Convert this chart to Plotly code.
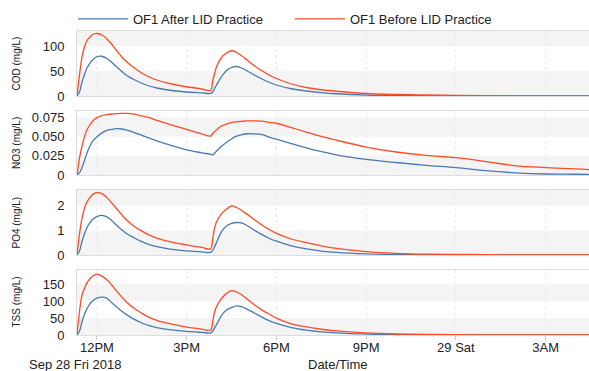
import plotly.graph_objects as go
from plotly.subplots import make_subplots

times = [
    "2018-09-28 11:20", "2018-09-28 11:25", "2018-09-28 11:30", "2018-09-28 11:35",
    "2018-09-28 11:40", "2018-09-28 11:45", "2018-09-28 11:50", "2018-09-28 11:55",
    "2018-09-28 12:00", "2018-09-28 12:10", "2018-09-28 12:20", "2018-09-28 12:30",
    "2018-09-28 12:40", "2018-09-28 12:50", "2018-09-28 13:00", "2018-09-28 13:15",
    "2018-09-28 13:30", "2018-09-28 13:45", "2018-09-28 14:00", "2018-09-28 14:30",
    "2018-09-28 15:00", "2018-09-28 15:30", "2018-09-28 15:48", "2018-09-28 15:52",
    "2018-09-28 15:56", "2018-09-28 16:00", "2018-09-28 16:10", "2018-09-28 16:20",
    "2018-09-28 16:30", "2018-09-28 16:40", "2018-09-28 16:50", "2018-09-28 17:00",
    "2018-09-28 17:15", "2018-09-28 17:30", "2018-09-28 17:45", "2018-09-28 18:00",
    "2018-09-28 18:30", "2018-09-28 19:00", "2018-09-28 19:30", "2018-09-28 20:00",
    "2018-09-28 21:00", "2018-09-28 22:00", "2018-09-28 23:00", "2018-09-29 00:00",
    "2018-09-29 01:00", "2018-09-29 02:00", "2018-09-29 03:00", "2018-09-29 04:00",
    "2018-09-29 04:27",
]

cod_after = [0, 8, 27.6, 43, 56, 64, 71, 75.5, 78.5, 79.5, 75, 67, 58, 49, 41, 32.5, 25.5, 20, 16,
             11, 8, 6.2, 5.2, 8, 15, 22, 39, 51, 57, 59, 56, 51, 42.5, 34.5, 27.5, 22, 14.5, 10, 6.8,
             4.5, 1.8, 0.8, 0.4, 0.2, 0.1, 0.05, 0, 0, 0]
cod_before = [0, 42, 78, 98, 111, 117, 122, 124.5, 125, 122, 114, 103, 90, 78, 68, 56, 46, 38, 32,
              24, 18.5, 14, 11.5, 30, 45, 59, 77, 86, 90.5, 87, 80.5, 73, 61, 51, 42, 35, 24, 17,
              12.5, 9.5, 5, 3, 2, 1.2, 0.7, 0.4, 0.2, 0.1, 0.1]

no3_after = [0, 0.003, 0.0095, 0.019, 0.0285, 0.0365, 0.043, 0.0467, 0.050, 0.055, 0.0583, 0.0595,
             0.0605, 0.0600, 0.0584, 0.0554, 0.0518, 0.0482, 0.0444, 0.0384, 0.0328, 0.0290, 0.0270,
             0.0262, 0.0284, 0.0313, 0.0374, 0.0428, 0.0470, 0.0506, 0.0525, 0.0538, 0.0537, 0.0530,
             0.0495, 0.0467, 0.0410, 0.0355, 0.0305, 0.0263, 0.0204, 0.0163, 0.0126, 0.0096, 0.0057,
             0.0028, 0.0013, 0.0010, 0.0008]
no3_before = [0, 0.022, 0.0375, 0.050, 0.059, 0.0646, 0.069, 0.0726, 0.0748, 0.0775, 0.0787, 0.0796,
              0.0801, 0.0804, 0.0804, 0.0794, 0.0770, 0.0748, 0.0712, 0.0652, 0.0594, 0.0535, 0.0508,
              0.0540, 0.0565, 0.0590, 0.0640, 0.0665, 0.0683, 0.0693, 0.0700, 0.0705, 0.0706, 0.0702,
              0.0688, 0.0675, 0.0618, 0.0560, 0.0505, 0.0455, 0.0365, 0.0300, 0.0255, 0.0226, 0.0175,
              0.0120, 0.0097, 0.0080, 0.0070]

po4_after = [0, 0.16, 0.55, 0.86, 1.11, 1.28, 1.41, 1.50, 1.56, 1.61, 1.55, 1.39, 1.20, 1.02, 0.86,
             0.69, 0.54, 0.42, 0.34, 0.23, 0.17, 0.125, 0.105, 0.17, 0.33, 0.51, 0.95, 1.18, 1.28,
             1.32, 1.30, 1.21, 1.02, 0.84, 0.68, 0.56, 0.37, 0.245, 0.16, 0.105, 0.045, 0.02, 0.01,
             0.005, 0.003, 0.002, 0.001, 0.001, 0.001]
po4_before = [0, 0.85, 1.49, 1.9, 2.15, 2.31, 2.43, 2.50, 2.53, 2.49, 2.33, 2.11, 1.87, 1.63, 1.41,
              1.16, 0.97, 0.81, 0.69, 0.52, 0.41, 0.31, 0.25, 0.63, 1.10, 1.35, 1.68, 1.86, 1.99, 1.93,
              1.81, 1.67, 1.45, 1.23, 1.04, 0.88, 0.65, 0.50, 0.37, 0.27, 0.14, 0.07, 0.035, 0.02,
              0.01, 0.005, 0.003, 0.002, 0.002]

tss_after = [0, 11, 39, 61, 78, 90, 99, 105, 109, 112, 108.5, 95, 82.5, 70, 59.5, 46, 35.5, 27.5, 22,
             15, 10.5, 7.7, 6.3, 11, 21, 31, 58, 74, 81, 86, 83.5, 77, 65.5, 53.5, 42.5, 34, 22, 14.5,
             9.5, 6.3, 2.5, 1.2, 0.6, 0.3, 0.15, 0.1, 0, 0, 0]
tss_before = [0, 69, 118, 137, 154, 165, 173, 177, 180, 174, 163, 147, 129, 112, 97, 78, 64, 52, 43.5,
              32, 23.5, 17.5, 14.5, 38, 68, 84, 108, 123, 131, 127, 119, 108, 90, 75, 62, 50, 33, 24,
              17, 12, 6, 3, 1.5, 0.8, 0.4, 0.2, 0.1, 0.1, 0.1]

panel_titles = ["COD (mg/L)", "NO3 (mg/L)", "PO4 (mg/L)", "TSS (mg/L)"]
after_series = [cod_after, no3_after, po4_after, tss_after]
before_series = [cod_before, no3_before, po4_before, tss_before]
y_ticks = [[0, 50, 100], [0, 0.025, 0.05, 0.075], [0, 1, 2], [0, 50, 100, 150]]
y_ticktext = [["0", "50", "100"], ["0", "0.025", "0.050", "0.075"], ["0", "1", "2"],
              ["0", "50", "100", "150"]]
y_ranges = [[0, 130], [0, 0.0835], [0, 2.64], [0, 192]]

x_tickvals = ["2018-09-28 12:00", "2018-09-28 15:00", "2018-09-28 18:00", "2018-09-28 21:00",
              "2018-09-29 00:00", "2018-09-29 03:00"]
x_ticktext = ["12PM", "3PM", "6PM", "9PM", "29 Sat", "3AM"]
x_range = ["2018-09-28 11:20", "2018-09-29 04:27"]

series_names = ["OF1 After LID Practice", "OF1 Before LID Practice"]
colors = ["#4a78b0", "#ff4a26"]

FONT = "Liberation Sans, Arial, sans-serif"
W, H = 589, 371
ML, MR, MT, MB = 77, 0, 31, 36
plot_h = H - MT - MB
# panel pixel extents (top, bottom) measured from top of page
panel_px = [(31, 96), (111, 175), (190, 255), (270, 335)]

fig = make_subplots(rows=4, cols=1, shared_xaxes=True, vertical_spacing=0.04)

for i in range(4):
    row = i + 1
    for s, (name, data) in enumerate(zip(series_names, [after_series[i], before_series[i]])):
        fig.add_trace(go.Scatter(
            x=times, y=data, mode="lines", name=name,
            line=dict(color=colors[s], width=1.3, shape="spline", smoothing=1.0),
            showlegend=(i == 0), legendgroup=name, hoverinfo="skip"),
            row=row, col=1)

    top, bot = panel_px[i]
    d0 = (H - MB - bot) / plot_h
    d1 = (H - MB - top) / plot_h
    yname = "yaxis" if row == 1 else f"yaxis{row}"
    xname = "xaxis" if row == 1 else f"xaxis{row}"
    fig.layout[yname].update(
        domain=[d0, d1], range=y_ranges[i], tickvals=y_ticks[i], ticktext=y_ticktext[i],
        showgrid=False, zeroline=False, showline=True, mirror=True, linecolor="#dcdcdc",
        linewidth=1, ticks="", ticklabelstandoff=9,
        tickfont=dict(family=FONT, size=13, color="#222"))
    fig.layout[xname].update(
        range=x_range, type="date", tickvals=x_tickvals, ticktext=x_ticktext,
        showgrid=True, gridcolor="#ebebeb", griddash="dot", gridwidth=1,
        zeroline=False, showline=True, mirror=True, linecolor="#dcdcdc", linewidth=1,
        showticklabels=(row == 4), ticks="outside" if row == 4 else "",
        ticklen=4, tickcolor="#cccccc", ticklabelstandoff=-4 if row == 4 else 0,
        tickfont=dict(family=FONT, size=13, color="#222"))

    # alternating horizontal bands, starting with a shaded band at zero
    edges = list(y_ticks[i]) + [y_ranges[i][1]]
    xref = "x domain" if row == 1 else f"x{row} domain"
    yref = "y" if row == 1 else f"y{row}"
    for k in range(0, len(edges) - 1, 2):
        fig.add_shape(type="rect", xref=xref, yref=yref, x0=0, x1=1,
                      y0=edges[k], y1=edges[k + 1], fillcolor="#f4f4f4",
                      line=dict(width=0), layer="below")

    # y-axis title
    yc = (H - MB - (top + bot) / 2) / plot_h
    fig.add_annotation(xref="paper", yref="paper", x=(16 - ML) / (W - ML - MR), y=yc,
                       text=panel_titles[i], textangle=-90, showarrow=False,
                       xanchor="center", yanchor="middle",
                       font=dict(family=FONT, size=10, color="#222"))

fig.add_annotation(xref="paper", yref="paper", x=(75 - ML) / (W - ML - MR),
                   y=(H - MB - 364.5) / plot_h, text="Sep 28 Fri 2018", showarrow=False,
                   xanchor="center", yanchor="middle", font=dict(family=FONT, size=13, color="#222"))
fig.add_annotation(xref="paper", yref="paper", x=(337 - ML) / (W - ML - MR),
                   y=(H - MB - 364.5) / plot_h, text="Date/Time", showarrow=False,
                   xanchor="center", yanchor="middle", font=dict(family=FONT, size=13, color="#222"))

fig.update_layout(
    width=W, height=H,
    margin=dict(l=ML, r=MR, t=MT, b=MB, pad=0, autoexpand=False),
    paper_bgcolor="white", plot_bgcolor="white",
    font=dict(family=FONT, size=13, color="#222"),
    showlegend=True,
    legend=dict(orientation="h", x=-0.008, xanchor="left", y=(H - MB - 19) / plot_h,
                yanchor="middle", itemwidth=50, entrywidth=152, entrywidthmode="pixels",
                font=dict(family=FONT, size=13, color="#222"), bgcolor="rgba(0,0,0,0)",
                tracegroupgap=0),
    hovermode=False,
)

fig.write_html("out.html")
